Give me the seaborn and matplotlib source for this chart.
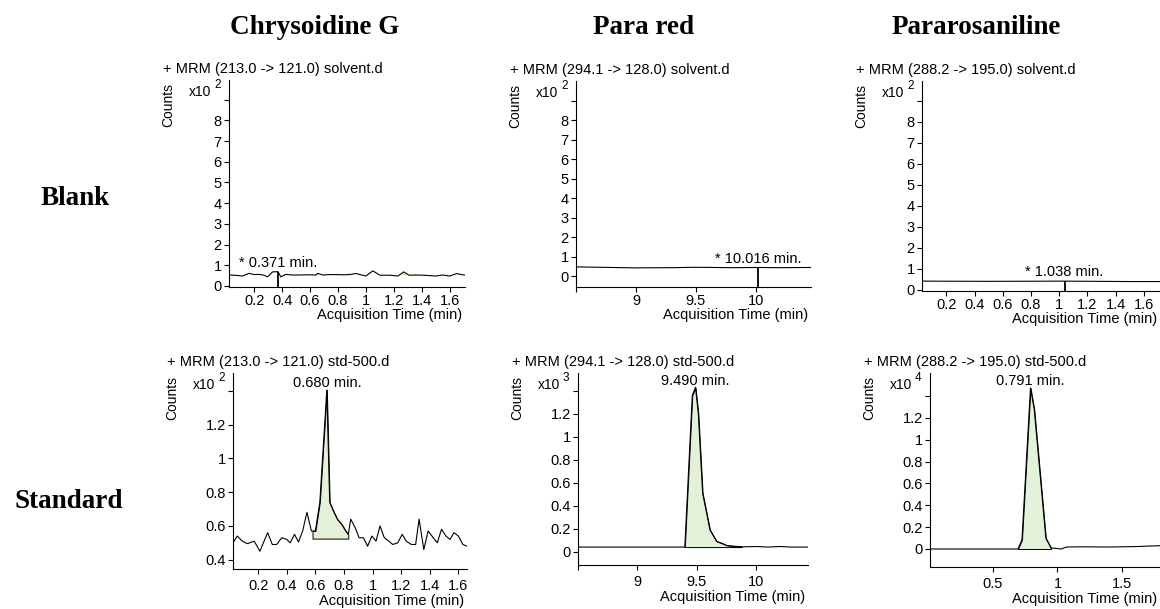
import numpy as np
import matplotlib.pyplot as plt
import seaborn as sns

# headers
compounds = ["Chrysoidine G", "Para red", "Pararosaniline"]
row_names = ["Blank", "Standard"]
transitions = ["213.0 -> 121.0", "294.1 -> 128.0", "288.2 -> 195.0"]
sample_files = ["solvent.d", "std-500.d"]

# retention times shown on the traces
blank_rt = [0.371, 10.016, 1.038]
std_rt = [0.680, 9.490, 0.791]

# counts exponent (x10^n)
blank_exp = [2, 2, 2]
std_exp = [2, 3, 4]

# ---- blank traces (counts x10^2) ----
cg_blank_t = [0.02, 0.06, 0.116, 0.164, 0.2, 0.236, 0.27, 0.296, 0.332, 0.371,
              0.391, 0.427, 0.47, 0.523, 0.58, 0.643, 0.655, 0.69, 0.74, 0.786,
              0.84, 0.882, 0.93, 0.97, 1.0, 1.05, 1.1, 1.17, 1.23, 1.27,
              1.31, 1.36, 1.41, 1.46, 1.5, 1.55, 1.6, 1.65, 1.71]
cg_blank_y = [0.53, 0.52, 0.48, 0.61, 0.55, 0.56, 0.52, 0.44, 0.68, 0.69,
              0.44, 0.56, 0.53, 0.53, 0.54, 0.53, 0.61, 0.53, 0.55, 0.55,
              0.54, 0.55, 0.60, 0.53, 0.48, 0.73, 0.52, 0.52, 0.48, 0.68,
              0.52, 0.53, 0.52, 0.50, 0.48, 0.53, 0.48, 0.60, 0.52]

pr_blank_t = [8.5, 8.8, 9.0, 9.3, 9.5, 9.8, 10.016, 10.2, 10.46]
pr_blank_y = [0.48, 0.45, 0.43, 0.44, 0.46, 0.44, 0.45, 0.44, 0.45]

pa_blank_t = [0.027, 0.5, 1.038, 1.5, 1.72]
pa_blank_y = [0.42, 0.41, 0.42, 0.40, 0.40]

# ---- standard traces ----
cg_std_t = [0.024, 0.054, 0.089, 0.125, 0.172, 0.212, 0.266, 0.299, 0.329, 0.365,
            0.40, 0.424, 0.454, 0.482, 0.511, 0.541, 0.572, 0.60, 0.631, 0.68,
            0.70, 0.725, 0.753, 0.784, 0.812, 0.83, 0.847, 0.878, 0.906, 0.936,
            0.965, 0.995, 1.024, 1.052, 1.082, 1.113, 1.141, 1.176, 1.207, 1.235,
            1.271, 1.301, 1.325, 1.358, 1.388, 1.424, 1.452, 1.482, 1.513, 1.541,
            1.569, 1.60, 1.631, 1.659]
cg_std_y = [0.50, 0.54, 0.51, 0.495, 0.51, 0.45, 0.56, 0.49, 0.49, 0.53,
            0.52, 0.50, 0.55, 0.505, 0.57, 0.68, 0.57, 0.57, 0.74, 1.405,
            0.74, 0.69, 0.64, 0.61, 0.57, 0.55, 0.64, 0.59, 0.53, 0.53,
            0.48, 0.54, 0.51, 0.60, 0.53, 0.51, 0.49, 0.50, 0.55, 0.51,
            0.49, 0.49, 0.64, 0.46, 0.57, 0.53, 0.50, 0.58, 0.54, 0.52,
            0.56, 0.54, 0.49, 0.48]

pr_std_t = [8.5, 8.9, 9.2, 9.40, 9.463, 9.49, 9.514, 9.55, 9.612, 9.668,
            9.72, 9.75, 9.81, 9.89, 10.0, 10.1, 10.2, 10.3, 10.44]
pr_std_y = [0.04, 0.04, 0.04, 0.04, 1.36, 1.43, 1.20, 0.51, 0.19, 0.09,
            0.07, 0.055, 0.048, 0.042, 0.045, 0.04, 0.045, 0.04, 0.04]

pa_std_t = [0.012, 0.3, 0.6, 0.694, 0.725, 0.791, 0.82, 0.91, 0.95, 1.03,
            1.07, 1.2, 1.4, 1.6, 1.795]
pa_std_y = [0.0, 0.0, 0.0, 0.0, 0.085, 1.475, 1.28, 0.10, 0.01, 0.0,
            0.018, 0.02, 0.018, 0.022, 0.03]

# integration windows (start, end, baseline)
std_windows = [(0.58, 0.83, 0.525), (9.40, 9.88, 0.04), (0.694, 0.95, 0.0)]

blank_traces = [(cg_blank_t, cg_blank_y), (pr_blank_t, pr_blank_y), (pa_blank_t, pa_blank_y)]
std_traces = [(cg_std_t, cg_std_y), (pr_std_t, pr_std_y), (pa_std_t, pa_std_y)]

# axis ticks
ticks_x = [[0.2, 0.4, 0.6, 0.8, 1.0, 1.2, 1.4, 1.6],
           [8.5, 9.0, 9.5, 10.0],
           [0.2, 0.4, 0.6, 0.8, 1.0, 1.2, 1.4, 1.6]]
ticks_x_std = [[0.2, 0.4, 0.6, 0.8, 1.0, 1.2, 1.4, 1.6],
               [8.5, 9.0, 9.5, 10.0],
               [0.5, 1.0, 1.5]]
ticks_y_blank = list(range(0, 10))
ticks_y_std = [[0.4, 0.6, 0.8, 1.0, 1.2, 1.4],
               [0.0, 0.2, 0.4, 0.6, 0.8, 1.0, 1.2, 1.4],
               [0.0, 0.2, 0.4, 0.6, 0.8, 1.0, 1.2, 1.4]]

# layout in pixels: left, right, top, bottom
W, H = 1160, 609
rects_blank = [(229, 465, 80, 287), (576, 811, 81, 287), (922, 1160, 81, 291)]
rects_std = [(233, 467, 373, 569), (578, 808, 373, 565), (930, 1160, 373, 567)]
xlims_blank = [(0.02, 1.71), (8.5, 10.46), (0.027, 1.715)]
ylims_blank = [(-0.05, 9.95), (-0.55, 10.0), (-0.05, 9.95)]
xlims_std = [(0.024, 1.66), (8.5, 10.438), (0.012, 1.795)]
ylims_std = [(0.345, 1.505), (-0.116, 1.555), (-0.165, 1.612)]

FILL = "#e3f1da"
PT = 0.72  # points per pixel at dpi 100

sns.set_theme(style="ticks")
plt.rcParams["font.family"] = ["Liberation Sans", "DejaVu Sans"]
plt.rcParams["text.color"] = "black"

fig = plt.figure(figsize=(W / 100, H / 100), dpi=100)


def make_ax(rect):
    l, r, t, b = rect
    return fig.add_axes([l / W, 1 - b / H, (r - l) / W, (b - t) / H])


def fmt(v, hide):
    return "" if hide else f"{v:g}"


def style(ax, xt, yt, xlim, ylim, hide_x0, pad):
    ax.set_xlim(*xlim)
    ax.set_ylim(*ylim)
    ax.set_xticks(xt)
    ax.set_xticklabels([fmt(v, hide_x0 and i == 0) for i, v in enumerate(xt)])
    ax.set_yticks(yt)
    ax.set_yticklabels([fmt(v, i == len(yt) - 1) for i, v in enumerate(yt)])
    sns.despine(ax=ax)
    for s in ["left", "bottom"]:
        ax.spines[s].set_linewidth(0.8)
        ax.spines[s].set_color("black")
    ax.tick_params(direction="out", length=3.3, width=0.8, pad=2,
                   labelsize=10.5, colors="black")
    ax.tick_params(axis="x", pad=pad)
    ax.set_xlabel("")
    ax.set_ylabel("")


def decorate(ax, title, exp, xlab_off):
    ax.annotate(title, xy=(0, 1), xycoords="axes fraction",
                xytext=(-66 * PT, 11 * PT), textcoords="offset points",
                ha="left", va="center", fontsize=10.5)
    ax.annotate("Counts", xy=(0, 1), xycoords="axes fraction",
                xytext=(-61 * PT, -25 * PT), textcoords="offset points",
                ha="center", va="center", rotation=90, fontsize=10)
    ax.annotate("x10", xy=(0, 1), xycoords="axes fraction",
                xytext=(-18 * PT, -12 * PT), textcoords="offset points",
                ha="right", va="center", fontsize=10)
    ax.annotate(str(exp), xy=(0, 1), xycoords="axes fraction",
                xytext=(-15 * PT, -5 * PT), textcoords="offset points",
                ha="left", va="center", fontsize=8.5)
    ax.annotate("Acquisition Time (min)", xy=(1, 0), xycoords="axes fraction",
                xytext=(-3 * PT, -xlab_off * PT), textcoords="offset points",
                ha="right", va="center", fontsize=10.5)


# ---- blank row ----
for i in range(3):
    ax = make_ax(rects_blank[i])
    t, y = blank_traces[i]
    sns.lineplot(x=t, y=y, ax=ax, color="black", lw=0.8, sort=False, estimator=None)
    if i == 0:
        # small integrated noise spike
        tt = np.array([1.25, 1.27, 1.29])
        ax.fill_between(tt, 0.53, np.interp(tt, t, y), color="#ede3a0", lw=0)
    rt = blank_rt[i]
    top = np.interp(rt, t, y)
    ax.vlines(rt, ylims_blank[i][0], top, color="black", lw=1.3)
    ax.annotate(f"* {rt:.3f} min.", xy=(rt, top), xytext=(0, 3.5),
                textcoords="offset points", ha="center", va="baseline",
                fontsize=10.5)
    style(ax, ticks_x[i], ticks_y_blank, xlims_blank[i], ylims_blank[i], i == 1, 1.5)
    decorate(ax, f"+ MRM ({transitions[i]}) {sample_files[0]}", blank_exp[i], 28)

# ---- standard row ----
for i in range(3):
    ax = make_ax(rects_std[i])
    t, y = std_traces[i]
    t0, t1, base = std_windows[i]
    tt = np.concatenate([[t0], [v for v in t if t0 < v < t1], [t1]])
    ax.fill_between(tt, base, np.interp(tt, t, y), facecolor=FILL,
                    edgecolor="black", lw=0.7)
    sns.lineplot(x=t, y=y, ax=ax, color="black", lw=0.8, sort=False, estimator=None)
    rt = std_rt[i]
    ax.annotate(f"{rt:.3f} min.", xy=(rt, max(y)), xytext=(0, 2),
                textcoords="offset points", ha="center", va="baseline",
                fontsize=10.5)
    style(ax, ticks_x_std[i], ticks_y_std[i], xlims_std[i], ylims_std[i], i == 1, 4)
    decorate(ax, f"+ MRM ({transitions[i]}) {sample_files[1]}", std_exp[i], 32)

# ---- headers ----
header_x = [315, 644, 976]
for name, x in zip(compounds, header_x):
    fig.text(x / W, 1 - 27 / H, name, ha="center", va="center",
             fontsize=19.5, fontweight="bold", family="Liberation Serif")
row_pos = [(75, 199), (69, 502)]
for name, (x, y) in zip(row_names, row_pos):
    fig.text(x / W, 1 - y / H, name, ha="center", va="center",
             fontsize=19.5, fontweight="bold", family="Liberation Serif")

fig.savefig("out.png", dpi=100)
